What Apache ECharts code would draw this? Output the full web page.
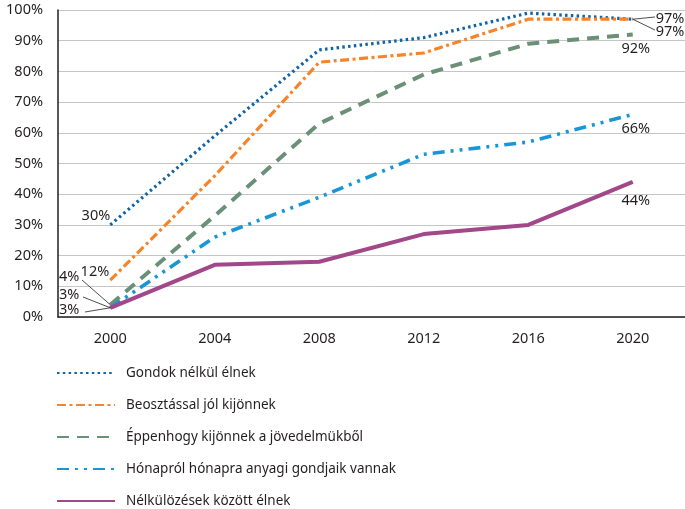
<!DOCTYPE html>
<html>
<head>
<meta charset="utf-8">
<script src="https://cdn.jsdelivr.net/npm/echarts@6/dist/echarts.min.js"></script>
<style>
  html, body { margin: 0; padding: 0; background: #fff; }
  #chartContainer { width: 685px; height: 509px; }
</style>
</head>
<body>
<div id="chartContainer"></div>
<script>
const years = ["2000", "2004", "2008", "2012", "2016", "2020"];
const seriesNames = [
    "Gondok nélkül élnek",
    "Beosztással jól kijönnek",
    "Éppenhogy kijönnek a jövedelmükből",
    "Hónapról hónapra anyagi gondjaik vannak",
    "Nélkülözések között élnek"
];
const gondokNelkul = [30, 59, 87, 91, 99, 97];
const beosztassal = [12, 46, 83, 86, 97, 97];
const eppenhogy = [4, 33, 63, 79, 89, 92];
const honaprol = [3, 26, 39, 53, 57, 66];
const nelkulozes = [3, 17, 18, 27, 30, 44];
const yTicks = [0, 10, 20, 30, 40, 50, 60, 70, 80, 90, 100];

const fontFamily = '"Noto Sans", sans-serif';
const textColor = '#231f20';

// value label next to a data point
const pointLabel = (idx, value, position, offset) => ({
    coord: [years[idx], value],
    value: value,
    symbol: 'circle',
    symbolSize: 0,
    label: {
        show: true,
        position: position,
        offset: offset,
        formatter: value + '%',
        color: textColor,
        fontSize: 14.5,
        fontFamily: fontFamily
    }
});

// thin leader line from a data point to its label
const leader = (idx, value, x, y) => [
    { coord: [years[idx], value] },
    { x: x, y: y }
];

const leaderStyle = {
    symbol: ['none', 'none'],
    silent: true,
    label: { show: false },
    lineStyle: { color: '#231f20', width: 0.8, type: 'solid' }
};

const makeSeries = (name, data, color, width, dash, labels, leaders) => ({
    name: name,
    type: 'line',
    data: data,
    symbol: 'none',
    lineStyle: { color: color, width: width, type: dash, cap: 'butt' },
    itemStyle: { color: color },
    markPoint: { data: labels, silent: true, animation: false },
    markLine: Object.assign({ data: leaders, animation: false }, leaderStyle),
    animation: false
});

window.onload = () => {
    const chart = echarts.init(document.getElementById('chartContainer'));

    const option = {
        grid: { left: 58, width: 628, top: 10, bottom: 192 },
        textStyle: { fontFamily: fontFamily },
        legend: {
            orient: 'vertical',
            left: 56,
            top: 366,
            padding: 0,
            itemWidth: 58,
            itemHeight: 14,
            itemGap: 18,
            itemStyle: { opacity: 0 },
            data: seriesNames,
            textStyle: {
                color: textColor, fontSize: 13.5, fontFamily: fontFamily,
                lineHeight: 14, padding: [0, 0, 0, 6]
            }
        },
        xAxis: {
            type: 'category',
            data: years,
            boundaryGap: true,
            axisLine: { lineStyle: { color: '#231f20', width: 1.5 } },
            axisTick: { show: false },
            axisLabel: { color: textColor, fontSize: 14.5, margin: 14, fontFamily: fontFamily }
        },
        yAxis: {
            type: 'value',
            min: 0,
            max: 100,
            interval: 10,
            axisLine: { show: true, lineStyle: { color: '#231f20', width: 1.5 } },
            axisTick: { show: false },
            axisLabel: {
                color: textColor, fontSize: 14.5, margin: 15, fontFamily: fontFamily,
                formatter: (v) => yTicks.includes(v) ? v + '%' : ''
            },
            splitLine: { lineStyle: { color: '#c6c6c6', width: 1 } }
        },
        series: [
            makeSeries(seriesNames[0], gondokNelkul, '#0f64a6', 3.2, [2.5, 3.3],
                [pointLabel(0, 30, 'left', [5, -9]), pointLabel(5, 97, 'right', [18, 0])],
                [leader(5, 97, 655, 17)]),
            makeSeries(seriesNames[1], beosztassal, '#f5842a', 3.2, [9, 3.5, 3, 3.5],
                [pointLabel(0, 12, 'left', [4, -8]), pointLabel(5, 97, 'right', [18, 13])],
                [leader(5, 97, 655, 30)]),
            makeSeries(seriesNames[2], eppenhogy, '#6a9178', 4, [12, 8],
                [pointLabel(0, 4, 'left', [-26, -28]), pointLabel(5, 92, 'bottom', [3, 2])],
                [leader(0, 4, 82, 280)]),
            makeSeries(seriesNames[3], honaprol, '#1897d8', 3.6, [12, 6, 3, 6, 3, 6],
                [pointLabel(0, 3, 'left', [-26, -13]), pointLabel(5, 66, 'bottom', [3, 2])],
                [leader(0, 3, 83, 297)]),
            makeSeries(seriesNames[4], nelkulozes, '#a1478a', 4, 'solid',
                [pointLabel(0, 3, 'left', [-26, 2]), pointLabel(5, 44, 'bottom', [3, 6])],
                [leader(0, 3, 85, 312)])
        ]
    };

    chart.setOption(option);
};
</script>
</body>
</html>
